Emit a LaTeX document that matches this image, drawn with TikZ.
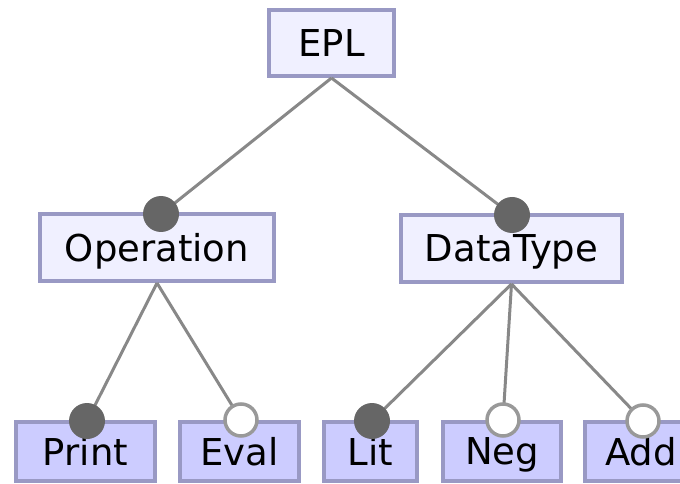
\documentclass[tikz,border=0pt]{standalone}
\usepackage{fontspec}
\setmainfont{DejaVu Sans}
\definecolor{boxborder}{RGB}{153,153,196}
\definecolor{innerfill}{RGB}{240,240,255}
\definecolor{leaffill}{RGB}{204,204,255}
\definecolor{edgegray}{RGB}{136,136,136}
\definecolor{dotgray}{RGB}{102,102,102}
\definecolor{ringgray}{RGB}{153,153,153}
\def\u{0.75pt}
\tikzset{
  feature/.style={draw=boxborder, line width=4*\u, inner sep=0pt,
    font=\fontsize{27.75}{30}\selectfont, text depth=0pt},
  innerbox/.style={feature, fill=innerfill},
  leafbox/.style={feature, fill=leaffill},
  edge/.style={draw=edgegray, line width=3*\u},
  mandatory/.style={circle, fill=dotgray, minimum size=36*\u, inner sep=0pt},
  optional/.style={circle, fill=white, draw=ringgray, line width=3.5*\u,
    minimum size=32*\u, inner sep=0pt}
}
\begin{document}
\begin{tikzpicture}[x=\u, y=-\u]
\useasboundingbox (0,0) rectangle (680,484);
\clip (0,0) rectangle (680,484);
% feature boxes
\node[innerbox, minimum width=125*\u, minimum height=66*\u] (epl) at (331.5,43) {EPL};
\node[innerbox, minimum width=234*\u, minimum height=67*\u] (op) at (157,247.5) {Operation};
\node[innerbox, minimum width=221*\u, minimum height=67*\u] (dt) at (511.5,248.5) {DataType};
\node[leafbox, minimum width=139*\u, minimum height=59*\u] (print) at (85.5,451.5) {Print};
\node[leafbox, minimum width=119*\u, minimum height=59*\u] (eval) at (239.5,451.5) {Eval};
\node[leafbox, minimum width=93*\u, minimum height=59*\u] (lit) at (370.5,451.5) {Lit};
\node[leafbox, minimum width=118*\u, minimum height=59*\u] (neg) at (502,451.5) {Neg};
\node[leafbox, minimum width=112*\u, minimum height=59*\u] (add) at (641,451.5) {Add};
% attachment points of the child features
\coordinate (cop) at (161,214);
\coordinate (cdt) at (512,215);
\coordinate (cprint) at (87,421);
\coordinate (ceval) at (241,420);
\coordinate (clit) at (372,421);
\coordinate (cneg) at (503,420);
\coordinate (cadd) at (643,421);
% connectors
\draw[edge] (epl.south) -- (cop);
\draw[edge] (epl.south) -- (cdt);
\draw[edge] (op.south) -- (cprint);
\draw[edge] (op.south) -- (ceval);
\draw[edge] (dt.south) -- (clit);
\draw[edge] (dt.south) -- (cneg);
\draw[edge] (dt.south) -- (cadd);
% mandatory / optional markers
\node[mandatory] (mop) at (cop) {};
\node[mandatory] (mdt) at (cdt) {};
\node[mandatory] (mprint) at (cprint) {};
\node[optional] (oeval) at (ceval) {};
\node[mandatory] (mlit) at (clit) {};
\node[optional] (oneg) at (cneg) {};
\node[optional] (oadd) at (cadd) {};
\end{tikzpicture}
\end{document}
